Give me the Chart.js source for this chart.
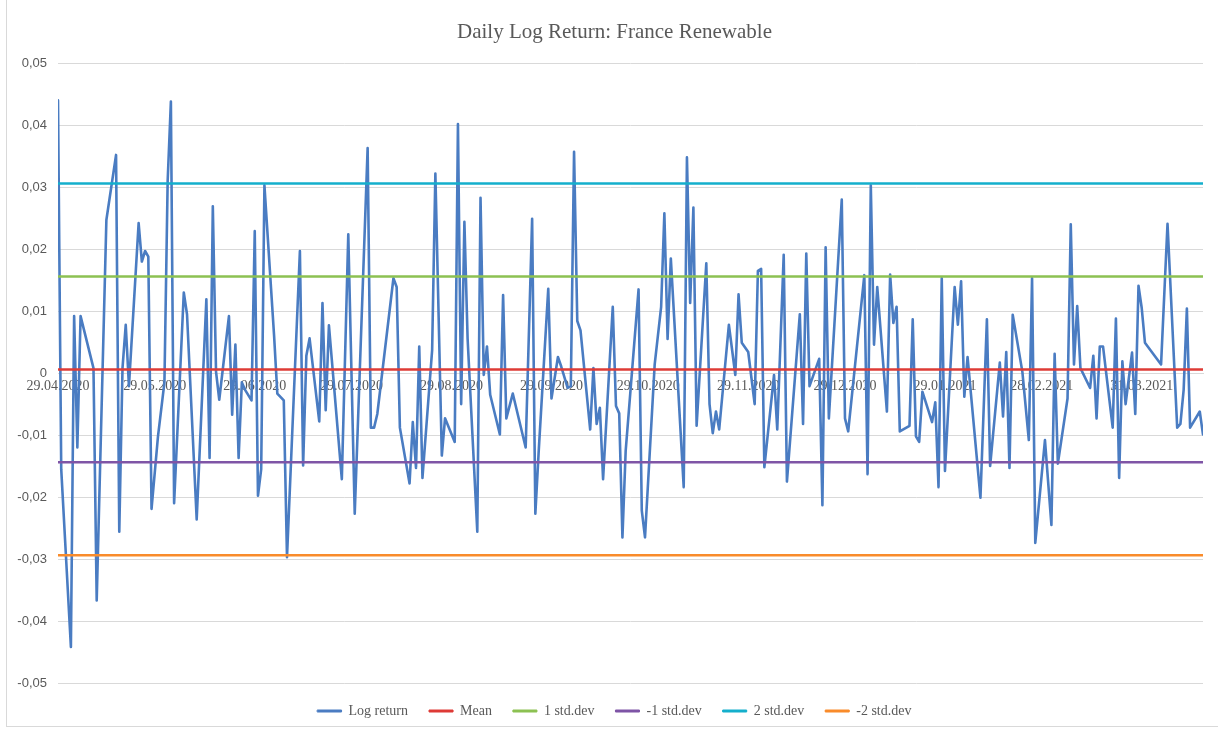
<!DOCTYPE html>
<html>
<head>
<meta charset="utf-8">
<script src="https://cdn.jsdelivr.net/npm/chart.js@4.4.1/dist/chart.umd.min.js"></script>
<style>
  html, body { margin: 0; padding: 0; background: #ffffff; }
  #wrap { position: relative; width: 1218px; height: 729px; }
  #frame { position: absolute; left: 6px; top: 0; width: 1212px; height: 727px;
           border-left: 1px solid #d9d9d9; border-bottom: 1px solid #d9d9d9; box-sizing: border-box; pointer-events: none; }
  canvas { position: absolute; left: 0; top: 0; }
</style>
</head>
<body>
<div id="wrap">
  <canvas id="c" width="1218" height="729"></canvas>
  <div id="frame"></div>
</div>
<script>
const TITLE = "Daily Log Return: France Renewable";

const DATES = [
"2020-04-29","2020-04-30","2020-05-03","2020-05-04","2020-05-05","2020-05-06","2020-05-10","2020-05-11","2020-05-14","2020-05-17",
"2020-05-18","2020-05-19","2020-05-20","2020-05-21","2020-05-24","2020-05-25","2020-05-26","2020-05-27","2020-05-28","2020-05-30",
"2020-06-01","2020-06-02","2020-06-03","2020-06-04","2020-06-07","2020-06-08","2020-06-11","2020-06-14","2020-06-15","2020-06-16",
"2020-06-17","2020-06-18","2020-06-21","2020-06-22","2020-06-23","2020-06-24","2020-06-25","2020-06-26","2020-06-28","2020-06-29",
"2020-06-30","2020-07-01","2020-07-02","2020-07-05","2020-07-06","2020-07-08","2020-07-09","2020-07-13","2020-07-14","2020-07-15",
"2020-07-16","2020-07-19","2020-07-20","2020-07-21","2020-07-22","2020-07-26","2020-07-28","2020-07-30","2020-08-03","2020-08-04",
"2020-08-05","2020-08-06","2020-08-11","2020-08-12","2020-08-13","2020-08-16","2020-08-17","2020-08-18","2020-08-19","2020-08-20",
"2020-08-23","2020-08-24","2020-08-26","2020-08-27","2020-08-30","2020-08-31","2020-09-01","2020-09-02","2020-09-03","2020-09-06",
"2020-09-07","2020-09-08","2020-09-09","2020-09-10","2020-09-13","2020-09-14","2020-09-15","2020-09-17","2020-09-21","2020-09-23",
"2020-09-24","2020-09-25","2020-09-28","2020-09-29","2020-10-01","2020-10-02","2020-10-04","2020-10-05","2020-10-06","2020-10-07",
"2020-10-08","2020-10-11","2020-10-12","2020-10-13","2020-10-14","2020-10-15","2020-10-18","2020-10-19","2020-10-20","2020-10-21",
"2020-10-22","2020-10-26","2020-10-27","2020-10-28","2020-10-31","2020-11-02","2020-11-03","2020-11-04","2020-11-05","2020-11-09",
"2020-11-10","2020-11-11","2020-11-12","2020-11-13","2020-11-16","2020-11-17","2020-11-18","2020-11-19","2020-11-20","2020-11-23",
"2020-11-25","2020-11-26","2020-11-27","2020-11-29","2020-12-01","2020-12-02","2020-12-03","2020-12-04","2020-12-07","2020-12-08",
"2020-12-10","2020-12-11","2020-12-15","2020-12-16","2020-12-17","2020-12-18","2020-12-21","2020-12-22","2020-12-23","2020-12-24",
"2020-12-28","2020-12-29","2020-12-30","2021-01-04","2021-01-05","2021-01-06","2021-01-07","2021-01-08","2021-01-11","2021-01-12",
"2021-01-13","2021-01-14","2021-01-15","2021-01-18","2021-01-19","2021-01-20","2021-01-21","2021-01-22","2021-01-25","2021-01-26",
"2021-01-27","2021-01-28","2021-01-29","2021-02-01","2021-02-02","2021-02-03","2021-02-04","2021-02-05","2021-02-09","2021-02-11",
"2021-02-12","2021-02-15","2021-02-16","2021-02-17","2021-02-18","2021-02-19","2021-02-22","2021-02-24","2021-02-25","2021-02-26",
"2021-03-01","2021-03-03","2021-03-04","2021-03-05","2021-03-08","2021-03-09","2021-03-10","2021-03-11","2021-03-12","2021-03-15",
"2021-03-16","2021-03-17","2021-03-18","2021-03-19","2021-03-22","2021-03-23","2021-03-24","2021-03-25","2021-03-26","2021-03-28",
"2021-03-29","2021-03-30","2021-03-31","2021-04-01","2021-04-06","2021-04-08","2021-04-11","2021-04-12","2021-04-13","2021-04-14",
"2021-04-15","2021-04-18","2021-04-19"
];

const LOG_RETURN = [
0.0440,-0.0155,-0.0442,0.0092,-0.0120,0.0092,0.0008,-0.0367,0.0247,0.0352,
-0.0256,0.0008,0.0078,-0.0021,0.0242,0.0180,0.0197,0.0188,-0.0219,-0.0102,
-0.0015,0.0310,0.0438,-0.0210,0.0130,0.0095,-0.0236,0.0119,-0.0137,0.0269,
0.0002,-0.0043,0.0092,-0.0067,0.0046,-0.0137,-0.0015,-0.0027,-0.0044,0.0229,
-0.0198,-0.0155,0.0303,0.0060,-0.0033,-0.0044,-0.0297,0.0197,-0.0149,0.0028,
0.0056,-0.0078,0.0113,-0.0060,0.0077,-0.0171,0.0224,-0.0227,0.0363,-0.0088,
-0.0088,-0.0066,0.0153,0.0139,-0.0088,-0.0178,-0.0079,-0.0153,0.0043,-0.0169,
0.0037,0.0322,-0.0133,-0.0073,-0.0111,0.0402,-0.0050,0.0244,0.0055,-0.0256,
0.0283,-0.0003,0.0043,-0.0035,-0.0099,0.0126,-0.0073,-0.0033,-0.0120,0.0249,
-0.0227,-0.0130,0.0136,-0.0041,0.0026,0.0011,-0.0024,-0.0021,0.0357,0.0084,
0.0069,-0.0091,0.0008,-0.0082,-0.0056,-0.0171,0.0107,-0.0053,-0.0065,-0.0265,
-0.0126,0.0135,-0.0222,-0.0265,0.0014,0.0107,0.0258,0.0055,0.0185,-0.0184,
0.0348,0.0113,0.0267,-0.0085,0.0177,-0.0050,-0.0097,-0.0062,-0.0091,0.0078,
-0.0003,0.0127,0.0049,0.0034,-0.0050,0.0165,0.0168,-0.0152,-0.0003,-0.0091,
0.0191,-0.0175,0.0095,-0.0082,0.0193,-0.0021,0.0023,-0.0213,0.0203,-0.0073,
0.0280,-0.0073,-0.0094,0.0158,-0.0163,0.0303,0.0046,0.0139,-0.0062,0.0159,
0.0081,0.0107,-0.0094,-0.0085,0.0087,-0.0102,-0.0111,-0.0030,-0.0079,-0.0047,
-0.0184,0.0153,-0.0158,0.0139,0.0078,0.0148,-0.0038,0.0026,-0.0201,0.0087,
-0.0150,0.0017,-0.0070,0.0034,-0.0153,0.0094,0.0002,-0.0108,0.0153,-0.0274,
-0.0108,-0.0245,0.0031,-0.0146,-0.0041,0.0240,0.0014,0.0108,0.0008,-0.0024,
0.0028,-0.0073,0.0043,0.0043,-0.0088,0.0088,-0.0169,0.0019,-0.0050,0.0033,
-0.0066,0.0141,0.0105,0.0049,0.0014,0.0241,-0.0088,-0.0082,-0.0027,0.0104,
-0.0088,-0.0062,-0.0099
];

const LEVEL_NAMES  = ["Mean", "1 std.dev", "-1 std.dev", "2 std.dev", "-2 std.dev"];
const LEVEL_VALUES = [0.0006, 0.0156, -0.0144, 0.0306, -0.0294];
const LEVEL_COLORS = ["#DE3B36", "#8CC152", "#7F55A6", "#14AFCC", "#F98B2A"];
const SERIES_NAME  = "Log return";
const SERIES_COLOR = "#4A7CC2";

const TICK_LABELS = ["29.04.2020","29.05.2020","29.06.2020","29.07.2020","29.08.2020","29.09.2020",
                     "29.10.2020","29.11.2020","29.12.2020","29.01.2021","28.02.2021","31.03.2021"];
const Y_TICKS = [0.05,0.04,0.03,0.02,0.01,0,-0.01,-0.02,-0.03,-0.04,-0.05];

// --- convert dates to day offsets for a linear date axis ---
function isoToUTC(s) { const p = s.split("-").map(Number); return Date.UTC(p[0], p[1]-1, p[2]); }
function dmyToUTC(s) { const p = s.split(".").map(Number); return Date.UTC(p[2], p[1]-1, p[0]); }
const ORIGIN = isoToUTC(DATES[0]);
const DAY = 86400000;
const xs = DATES.map(d => (isoToUTC(d) - ORIGIN) / DAY);
const tickDays = TICK_LABELS.map(t => (dmyToUTC(t) - ORIGIN) / DAY);
const tickLabelOf = {};
tickDays.forEach((d, i) => { tickLabelOf[d] = TICK_LABELS[i]; });
const xMin = xs[0], xMax = xs[xs.length - 1];

const SERIF = "'Liberation Serif', 'Times New Roman', serif";
const SANS = "'Liberation Sans', Arial, sans-serif";
const TEXT = "#595959";

const datasets = [{
  label: SERIES_NAME,
  data: xs.map((x, i) => ({ x: x, y: LOG_RETURN[i] })),
  borderColor: SERIES_COLOR,
  backgroundColor: SERIES_COLOR,
  borderWidth: 2.6,
  pointRadius: 0,
  tension: 0,
  borderJoinStyle: "round",
  borderCapStyle: "round",
  order: 10
}];
LEVEL_NAMES.forEach((name, i) => {
  datasets.push({
    label: name,
    data: [{ x: xMin, y: LEVEL_VALUES[i] }, { x: xMax, y: LEVEL_VALUES[i] }],
    borderColor: LEVEL_COLORS[i],
    backgroundColor: LEVEL_COLORS[i],
    borderWidth: 2.5,
    pointRadius: 0,
    order: 5 - i
  });
});

Chart.defaults.font.family = SERIF;
Chart.defaults.color = TEXT;

// Excel centres the title and legend on the whole chart box; nudge them to match
const centreShift = {
  id: "centreShift",
  afterLayout(chart) {
    const dx = 9;
    [chart.legend, chart.titleBlock].forEach(b => { if (b) { b.left += dx; b.right += dx; } });
  }
};

new Chart(document.getElementById("c"), {
  type: "line",
  data: { datasets: datasets },
  plugins: [centreShift],
  options: {
    responsive: false,
    animation: false,
    devicePixelRatio: 1,
    layout: { padding: { left: 8, right: 15, top: 0, bottom: 1 } },
    plugins: {
      tooltip: { enabled: false },
      title: {
        display: true,
        text: TITLE,
        color: TEXT,
        font: { family: SERIF, size: 21, weight: "normal" },
        padding: { top: 20, bottom: 18 }
      },
      legend: {
        position: "bottom",
        labels: {
          color: TEXT,
          font: { family: SERIF, size: 14 },
          boxWidth: 24,
          boxHeight: 2,
          padding: 21,
          sort: (a, b) => a.datasetIndex - b.datasetIndex,
          generateLabels: (chart) => {
            const items = Chart.defaults.plugins.legend.labels.generateLabels(chart);
            items.forEach(it => { it.fillStyle = it.strokeStyle; it.lineWidth = 1; });
            return items;
          }
        }
      }
    },
    scales: {
      x: {
        type: "linear",
        axis: "x",
        position: { y: 0 },
        min: xMin,
        max: xMax,
        grid: { display: false, drawTicks: true, tickLength: 5 },
        border: { display: true, color: "#d9d9d9", width: 1 },
        afterBuildTicks: (scale) => { scale.ticks = tickDays.map(v => ({ value: v })); },
        ticks: {
          autoSkip: false,
          maxRotation: 0,
          minRotation: 0,
          padding: 0,
          color: TEXT,
          font: { family: SERIF, size: 14 },
          callback: (v) => tickLabelOf[v] || ""
        }
      },
      y: {
        type: "linear",
        min: -0.05,
        max: 0.05,
        afterFit: (scale) => { scale.width = 50; },
        afterBuildTicks: (scale) => { scale.ticks = Y_TICKS.map(v => ({ value: v })); },
        grid: { color: "#d9d9d9", lineWidth: 1, drawTicks: false },
        border: { display: false },
        ticks: {
          padding: 11,
          color: TEXT,
          font: { family: SANS, size: 13 },
          callback: (v) => (Math.abs(v) < 1e-9 ? "0" : v.toFixed(2).replace(".", ","))
        }
      }
    }
  }
});
</script>
</body>
</html>
